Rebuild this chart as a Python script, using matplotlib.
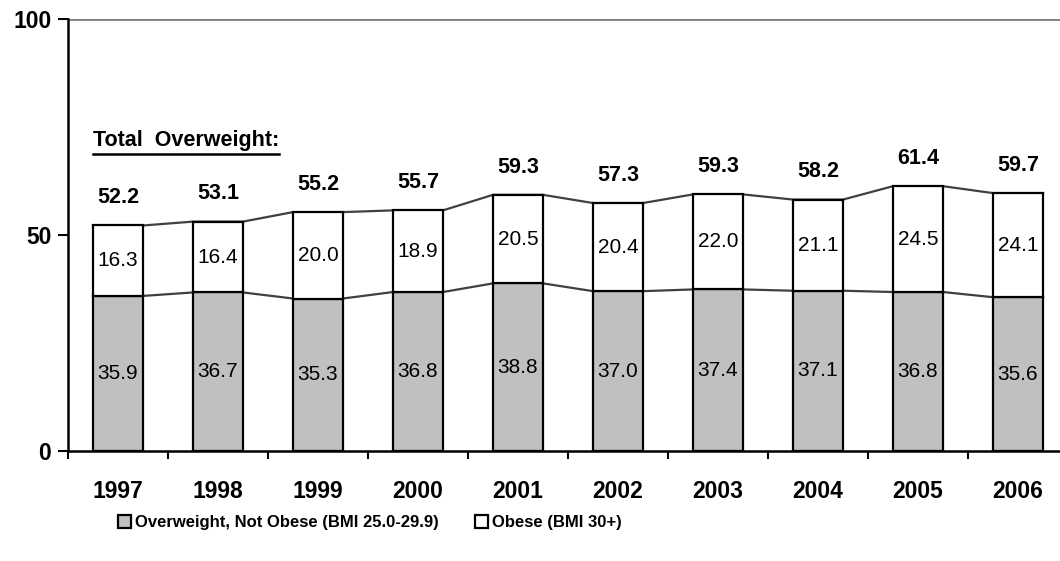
import numpy as np
import matplotlib.pyplot as plt
from matplotlib.ticker import FixedLocator

plt.rcParams['font.family'] = ['Liberation Sans', 'DejaVu Sans']

years = ['1997', '1998', '1999', '2000', '2001', '2002', '2003', '2004', '2005', '2006']
overweight = [35.9, 36.7, 35.3, 36.8, 38.8, 37.0, 37.4, 37.1, 36.8, 35.6]
obese = [16.3, 16.4, 20.0, 18.9, 20.5, 20.4, 22.0, 21.1, 24.5, 24.1]
totals = [52.2, 53.1, 55.2, 55.7, 59.3, 57.3, 59.3, 58.2, 61.4, 59.7]

gray = '#c0c0c0'
bar_w = 0.5

fig = plt.figure(figsize=(10.6, 5.61), dpi=100)
ax = fig.add_axes([68/1060, 1 - 451/561, 1 - 68/1060, (451 - 19)/561])

x = np.arange(len(years))
top = np.array(overweight) + np.array(obese)

# series lines joining the bar corners (excel style)
for level in [np.array(overweight), top]:
    xs = np.ravel(np.column_stack([x - bar_w/2, x + bar_w/2]))
    ys = np.repeat(level, 2)
    ax.plot(xs, ys, color='#404040', lw=1.6, zorder=1)

ax.bar(x, overweight, width=bar_w, color=gray, edgecolor='black', lw=1.6, zorder=2,
       label='Overweight, Not Obese (BMI 25.0-29.9)')
ax.bar(x, obese, width=bar_w, bottom=overweight, color='white', edgecolor='black', lw=1.6, zorder=2,
       label='Obese (BMI 30+)')

for i in range(len(years)):
    ax.text(x[i], overweight[i] / 2, f'{overweight[i]:.1f}', ha='center', va='center', fontsize=15, zorder=3)
    ax.text(x[i], overweight[i] + obese[i] / 2, f'{obese[i]:.1f}', ha='center', va='center', fontsize=15, zorder=3)
    ax.annotate(f'{totals[i]:.1f}', (x[i], top[i]), xytext=(0, 20), textcoords='offset points',
                ha='center', va='center', fontsize=15.5, fontweight='bold')

lbl = ax.text(0.025, 0.718, 'Total  Overweight:', transform=ax.transAxes, fontsize=15.5,
              fontweight='bold', ha='left', va='center')

ax.axhline(100, color='#808080', lw=2, zorder=0)
ax.set_ylim(0, 100)
ax.set_xlim(-0.5, 9.42)
ax.set_yticks([0, 50, 100])
ax.set_yticklabels(['0', '50', '100'], fontsize=16.5, fontweight='bold')
ax.set_xticks(x)
ax.set_xticklabels(years, fontsize=16.5, fontweight='bold')
ax.xaxis.set_minor_locator(FixedLocator(np.arange(-0.5, 10, 1)))
ax.tick_params(axis='x', which='major', length=0, pad=21)
ax.tick_params(axis='x', which='minor', length=6, width=1.5, direction='out')
ax.tick_params(axis='y', length=7, width=1.5, direction='out', pad=5)

for s in ['top', 'right']:
    ax.spines[s].set_visible(False)
for s in ['left', 'bottom']:
    ax.spines[s].set_linewidth(1.8)

fig.legend(loc='center', bbox_to_anchor=(0.349, 0.068), ncol=2, frameon=False,
           prop={'size': 12, 'weight': 'bold'},
           handlelength=0.75, handleheight=0.75, handletextpad=0.25, columnspacing=2.2)

# underline the "Total Overweight:" label
fig.canvas.draw()
bb = lbl.get_window_extent().transformed(ax.transAxes.inverted())
ax.plot([bb.x0, bb.x1], [bb.y0 - 0.006, bb.y0 - 0.006], transform=ax.transAxes,
        color='black', lw=1.8, clip_on=False)

fig.savefig('out.png', dpi=100)
